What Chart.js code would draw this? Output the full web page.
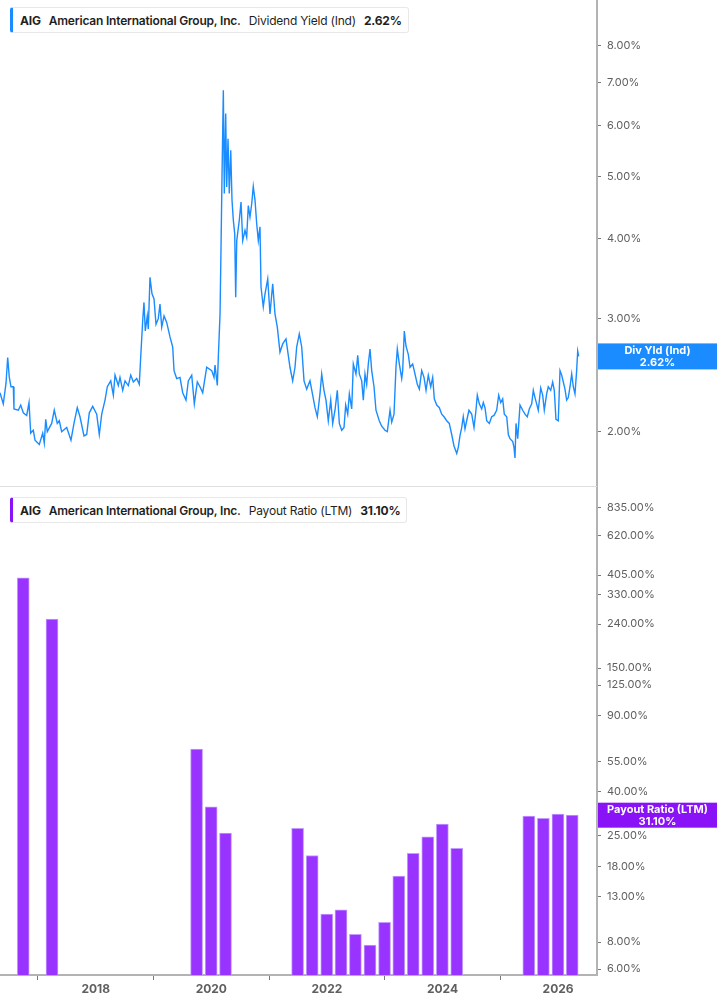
<!DOCTYPE html>
<html><head><meta charset="utf-8">
<script src="https://cdn.jsdelivr.net/npm/chart.js@4.4.1/dist/chart.umd.min.js"></script>
<style>
html,body{margin:0;padding:0;background:#fff;}
body{width:717px;height:1005px;position:relative;overflow:hidden;font-family:Inter,'Noto Sans',sans-serif;}
#c1{position:absolute;left:0;top:0;}
#c2{position:absolute;left:0;top:487px;}
.leg{position:absolute;left:10px;height:26px;box-sizing:border-box;border:1px solid #e8e8e8;border-left:3px solid;border-radius:3px;background:#fff;display:flex;align-items:center;padding:0 6px 0 7px;font-size:12px;color:#1f1f1f;white-space:nowrap;z-index:2;letter-spacing:-0.2px}
.leg span{margin-right:8px}
.leg span:last-child{margin-right:0}
.b{font-weight:700}.sb{font-weight:600}.n{font-weight:400}
.divider{position:absolute;left:0;top:486px;width:597px;height:1px;background:#dedede}
</style></head><body>
<canvas id="c1" width="717" height="487"></canvas>
<canvas id="c2" width="717" height="518"></canvas>
<div class="divider"></div>
<div class="leg" id="leg1" style="top:7px;border-left-color:#1a8cff"><span class="b">AIG</span><span class="sb">American International Group, Inc.</span><span class="n">Dividend Yield (Ind)</span><span class="b" id="v1"></span></div>
<div class="leg" id="leg2" style="top:497px;border-left-color:#8a12f7"><span class="b">AIG</span><span class="sb">American International Group, Inc.</span><span class="n">Payout Ratio (LTM)</span><span class="b" id="v2"></span></div>
<script>
// ---------- DATA ----------
const yieldDates = [
2016.344,2016.401,2016.448,2016.477,2016.505,2016.534,2016.574,2016.586,2016.661,2016.702,
2016.747,2016.806,2016.846,2016.875,2016.920,2016.950,2017.024,2017.083,2017.110,2017.135,
2017.162,2017.238,2017.283,2017.335,2017.370,2017.411,2017.498,2017.572,2017.624,2017.681,
2017.728,2017.797,2017.844,2017.889,2017.948,2018.017,2018.062,2018.104,2018.161,2018.201,
2018.260,2018.305,2018.334,2018.391,2018.420,2018.467,2018.507,2018.564,2018.606,2018.651,
2018.709,2018.754,2018.778,2018.813,2018.835,2018.858,2018.892,2018.910,2018.939,2018.974,
2019.009,2019.043,2019.083,2019.112,2019.142,2019.182,2019.228,2019.285,2019.332,2019.355,
2019.401,2019.458,2019.505,2019.562,2019.602,2019.661,2019.706,2019.758,2019.804,2019.851,
2019.920,2020.007,2020.047,2020.064,2020.104,2020.121,2020.151,2020.168,2020.185,2020.208,
2020.225,2020.249,2020.266,2020.289,2020.311,2020.336,2020.358,2020.381,2020.405,2020.422,
2020.440,2020.484,2020.514,2020.543,2020.583,2020.612,2020.640,2020.669,2020.699,2020.726,
2020.756,2020.785,2020.813,2020.842,2020.860,2020.899,2020.929,2020.976,2021.015,2021.062,
2021.102,2021.142,2021.188,2021.235,2021.292,2021.332,2021.361,2021.408,2021.448,2021.477,
2021.522,2021.564,2021.604,2021.650,2021.707,2021.754,2021.794,2021.834,2021.880,2021.910,
2021.949,2021.984,2022.024,2022.066,2022.100,2022.140,2022.180,2022.215,2022.256,2022.296,
2022.325,2022.360,2022.388,2022.429,2022.457,2022.503,2022.533,2022.561,2022.602,2022.630,
2022.659,2022.688,2022.716,2022.746,2022.775,2022.815,2022.849,2022.906,2022.948,2023.005,
2023.045,2023.092,2023.121,2023.161,2023.195,2023.218,2023.253,2023.294,2023.311,2023.339,
2023.368,2023.408,2023.438,2023.484,2023.524,2023.564,2023.599,2023.640,2023.680,2023.715,
2023.754,2023.796,2023.830,2023.858,2023.900,2023.945,2023.986,2024.026,2024.073,2024.117,
2024.159,2024.199,2024.246,2024.273,2024.302,2024.332,2024.359,2024.389,2024.418,2024.458,
2024.505,2024.545,2024.579,2024.602,2024.637,2024.678,2024.706,2024.735,2024.765,2024.810,
2024.851,2024.891,2024.937,2024.972,2025.007,2025.041,2025.069,2025.111,2025.139,2025.168,
2025.215,2025.237,2025.254,2025.272,2025.301,2025.341,2025.388,2025.427,2025.467,2025.502,
2025.543,2025.571,2025.600,2025.629,2025.657,2025.699,2025.733,2025.761,2025.802,2025.830,
2025.872,2025.906,2025.934,2025.963,2026.003,2026.033,2026.062,2026.090,2026.119,2026.148,
2026.176,2026.206,2026.235,2026.263,2026.292,2026.321,2026.339,2026.356];
const yieldValues = [
2.30,2.21,2.38,2.61,2.43,2.35,2.35,2.17,2.16,2.20,
2.14,2.12,2.22,1.99,2.01,1.94,1.91,1.99,1.92,2.09,
2.00,2.06,2.16,2.06,2.08,2.00,2.03,1.94,2.06,2.18,
2.11,1.97,1.98,2.14,2.19,2.13,1.98,2.13,2.24,2.35,
2.40,2.28,2.45,2.36,2.43,2.32,2.40,2.36,2.45,2.39,
2.42,2.37,2.61,2.98,3.18,2.87,3.03,2.89,3.48,3.28,
3.22,2.94,3.00,3.16,2.91,3.03,2.96,2.81,2.71,2.49,
2.42,2.43,2.30,2.24,2.40,2.45,2.21,2.39,2.35,2.30,
2.52,2.49,2.43,2.54,2.36,2.61,3.05,3.88,4.99,6.81,
4.70,6.26,4.81,5.72,4.70,5.49,4.59,4.27,4.07,3.24,
3.97,4.27,4.56,3.97,4.12,4.02,4.50,4.32,4.53,4.82,
4.59,4.22,3.97,4.17,3.36,3.13,3.28,3.46,3.05,3.40,
3.05,2.91,2.66,2.74,2.79,2.63,2.52,2.40,2.52,2.71,
2.84,2.71,2.40,2.33,2.40,2.28,2.18,2.11,2.29,2.46,
2.32,2.24,2.08,2.24,2.06,2.16,2.32,2.06,2.01,2.03,
2.20,2.13,2.29,2.17,2.55,2.46,2.63,2.46,2.40,2.24,
2.46,2.37,2.55,2.69,2.49,2.35,2.16,2.08,2.04,2.01,
2.00,2.16,2.07,2.13,2.52,2.69,2.55,2.42,2.49,2.87,
2.72,2.64,2.52,2.55,2.46,2.37,2.33,2.49,2.43,2.32,
2.45,2.35,2.43,2.25,2.20,2.18,2.13,2.11,2.08,2.06,
1.98,1.90,1.85,1.89,1.97,2.03,2.11,2.02,2.08,2.16,
2.13,2.03,2.16,2.28,2.21,2.17,2.22,2.18,2.08,2.06,
2.11,2.12,2.16,2.28,2.22,2.25,2.13,2.11,1.98,1.95,
1.93,1.89,1.82,2.06,1.95,2.20,2.16,2.13,2.11,2.17,
2.21,2.32,2.26,2.21,2.16,2.34,2.28,2.16,2.29,2.35,
2.32,2.39,2.32,2.09,2.08,2.49,2.45,2.39,2.33,2.24,
2.26,2.35,2.46,2.35,2.29,2.49,2.67,2.62];
const payoutDates = ['2016-09-30','2017-03-31','2019-09-30','2019-12-31','2020-03-31',
  '2021-06-30','2021-09-30','2021-12-31','2022-03-31','2022-06-30','2022-09-30','2022-12-31',
  '2023-03-31','2023-06-30','2023-09-30','2023-12-31','2024-03-31',
  '2025-06-30','2025-09-30','2025-12-31','2026-03-31'];
const payoutValues = [394,253,63,34,25.7,27,20.2,10.8,11.3,8.7,7.76,9.9,16.2,20.7,24.7,28.3,21.8,30.8,30.1,31.5,31.1];
const yieldTicks = [2,3,4,5,6,7,8];
const payoutTicks = [6,8,13,18,25,40,55,90,125,150,240,330,405,620,835];
const yearTicks = [2018,2020,2022,2024,2026];

// ---------- HELPERS ----------
function toYear(s){
  const [y,m,d] = s.split('-').map(Number);
  const start = Date.UTC(y,0,1), end = Date.UTC(y+1,0,1);
  return y + (Date.UTC(y,m-1,d) - start)/(end-start);
}
const X_MIN = 2016.344, X_MAX = 2026.673;
const AXIS_W = 120;
const lastYield = yieldValues[yieldValues.length-1];
const lastPayout = payoutValues[payoutValues.length-1];
document.getElementById('v1').textContent = lastYield.toFixed(2)+'%';
document.getElementById('v2').textContent = lastPayout.toFixed(2)+'%';

Chart.defaults.font.family = "Inter, 'Noto Sans', sans-serif";
Chart.defaults.animation = false;

const lastLabel = {
  id:'lastLabel',
  afterDraw(chart, args, o){
    const ys = chart.scales.y, ctx = chart.ctx;
    const yp = ys.getPixelForValue(o.value);
    const x0 = chart.chartArea.right + 1, w = chart.width - x0, h = o.h;
    ctx.save();
    ctx.fillStyle = o.color;
    ctx.fillRect(x0, yp - h/2, w, h);
    ctx.fillStyle = '#fff';
    ctx.font = "bold 11px Inter, 'Noto Sans', sans-serif";
    ctx.textAlign = 'center'; ctx.textBaseline = 'middle';
    ctx.fillText(o.title, x0 + w/2, yp - 6);
    ctx.fillText(o.value.toFixed(2)+'%', x0 + w/2, yp + 6);
    ctx.restore();
  }
};

function yAxis(min, max, ticks){
  return {
    type:'logarithmic', position:'right', min, max, bounds:'data',
    afterBuildTicks: s => { s.ticks = ticks.map(v => ({value:v})); s.min = min; s.max = max; },
    afterFit: s => { s.width = AXIS_W; s.paddingTop = 0; s.paddingBottom = 0; },
    border:{display:true, color:'#b3b3b3', width:2},
    grid:{display:true, drawOnChartArea:false, drawTicks:true, tickLength:4, color:'#7a7a7a', lineWidth:1},
    ticks:{padding:6, color:'#5f5f5f', font:{size:11}, autoSkip:false,
      callback: v => Number(v).toFixed(2)+'%'}
  };
}

// ---------- TOP: Dividend Yield ----------
new Chart(document.getElementById('c1'), {
  type:'line',
  data:{datasets:[{
    data: yieldDates.map((d,i)=>({x:d, y:yieldValues[i]})),
    borderColor:'#1a8cff', borderWidth:1.4, pointRadius:0, tension:0, fill:false
  }]},
  options:{
    responsive:false, maintainAspectRatio:false,
    layout:{padding:0},
    plugins:{legend:{display:false}, tooltip:{enabled:false},
      lastLabel:{value:lastYield, title:'Div Yld (Ind)', color:'#1a8cff', h:26}},
    scales:{
      x:{type:'linear', min:X_MIN, max:X_MAX, display:false},
      y: yAxis(1.64, 9.41, yieldTicks)
    }
  },
  plugins:[lastLabel]
});

// ---------- BOTTOM: Payout Ratio ----------
new Chart(document.getElementById('c2'), {
  type:'bar',
  data:{datasets:[{
    data: payoutDates.map((d,i)=>({x:toYear(d), y:payoutValues[i]})),
    backgroundColor:'#9933ff', borderColor:'#c49bff',
    borderWidth:{top:1,left:1,right:1,bottom:0}, borderSkipped:false,
    barThickness:12
  }]},
  options:{
    responsive:false, maintainAspectRatio:false,
    layout:{padding:0},
    plugins:{legend:{display:false}, tooltip:{enabled:false},
      lastLabel:{value:lastPayout, title:'Payout Ratio (LTM)', color:'#8a12f7', h:25}},
    scales:{
      x:{type:'linear', min:X_MIN, max:X_MAX, offset:false,
        afterBuildTicks: s => { s.ticks = yearTicks.map(v => ({value:v})); },
        afterFit: s => { s.height = 30; s.paddingLeft = 0; s.paddingRight = 0; },
        border:{display:true, color:'#b3b3b3', width:2},
        grid:{display:true, drawOnChartArea:false, drawTicks:true, tickLength:5, color:'#7a7a7a'},
        ticks:{padding:2, color:'#5f5f5f', font:{size:12, weight:'bold'}, maxRotation:0, autoSkip:false,
          callback: v => String(v)}
      },
      y: yAxis(5.63, 1040, payoutTicks)
    }
  },
  plugins:[lastLabel]
});
</script>
</body></html>
